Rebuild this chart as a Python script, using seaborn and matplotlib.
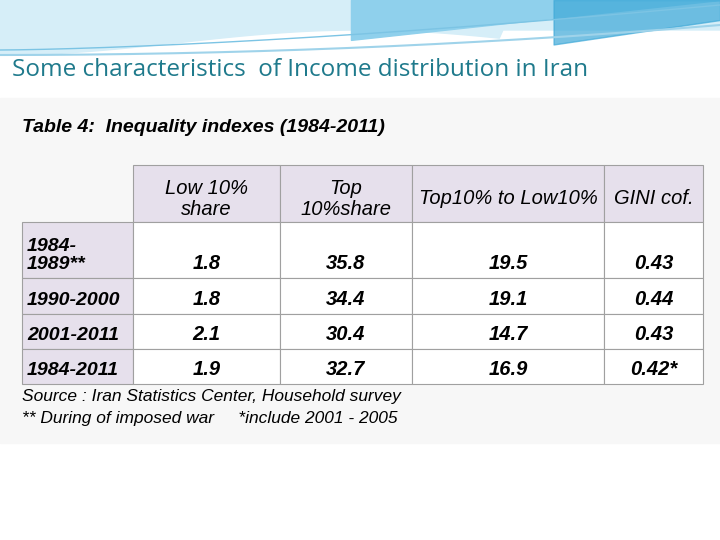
import matplotlib
matplotlib.use("Agg")
import matplotlib.pyplot as plt
import seaborn as sns
import numpy as np
from matplotlib.patches import Rectangle

sns.set_theme(style="white")
plt.rcParams['font.family'] = ['Liberation Sans Narrow', 'Liberation Sans', 'DejaVu Sans']
plt.rcParams['text.color'] = 'black'

title = "Some characteristics  of Income distribution in Iran"
table_title = "Table 4:  Inequality indexes (1984-2011)"
headers = ["", "Low 10%\nshare", "Top\n10%share", "Top10% to Low10%", "GINI cof."]
periods = ["1984-\n1989**", "1990-2000", "2001-2011", "1984-2011"]
low10 = ["1.8", "1.8", "2.1", "1.9"]
top10 = ["35.8", "34.4", "30.4", "32.7"]
ratio = ["19.5", "19.1", "14.7", "16.9"]
gini = ["0.43", "0.44", "0.43", "0.42*"]
source = "Source : Iran Statistics Center, Household survey"
note = "** During of imposed war     *include 2001 - 2005"

col_edges = [22, 133, 280, 412, 604, 703]
row_edges = [165, 222, 278, 314, 349, 384]

fig = plt.figure(figsize=(7.2, 5.4), dpi=100)
ax = fig.add_axes([0, 0, 1, 1])
ax.set_xlim(0, 720); ax.set_ylim(540, 0); ax.axis("off")

# top decoration
xs = np.linspace(0, 720, 200)
ax.fill_between(xs, 0, 30 + 25 * np.cos(xs / 720 * np.pi) ** 2 * (xs < 500), color="#d6eef8", zorder=0)
ax.plot(xs, 55 - 30 * (xs / 720) ** 2, color="#9fd3ea", lw=1.5)
ax.plot(xs, 50 - 45 * (xs / 720) ** 1.5, color="#7cc4e4", lw=1)
ax.fill_between(xs[xs > 350], 0, 40 - 40 * ((xs[xs > 350] - 350) / 370), color="#8fd0ec", zorder=0)
ax.fill_between(xs[xs > 550], 0, 45 - 25 * ((xs[xs > 550] - 550) / 170), color="#3fa9d8", alpha=0.7, zorder=0)

ax.text(12, 70, title, fontsize=17.5, color="#1f7a8c", va="center", ha="left", family=['Open Sans', 'DejaVu Sans'])
ax.add_patch(Rectangle((0, 98), 720, 345, color="#f7f7f7", zorder=0))
ax.text(22, 128, table_title, fontsize=14, fontweight="bold", style="italic", va="center")

lav = "#e6e0ec"
rows = [headers] + [[p, a, b, c, d] for p, a, b, c, d in zip(periods, low10, top10, ratio, gini)]
for r, row in enumerate(rows):
    for c, txt in enumerate(row):
        x0, x1 = col_edges[c], col_edges[c + 1]
        y0, y1 = row_edges[r], row_edges[r + 1]
        if r == 0 and c == 0:
            continue
        fc = lav if (r == 0 or c == 0) else "white"
        ax.add_patch(Rectangle((x0, y0), x1 - x0, y1 - y0, facecolor=fc, edgecolor="#a0a0a0", lw=0.8))
        if c == 0 and r > 0:
            ax.text(x0 + 5, y1 - 5, txt, fontsize=14, fontweight="bold", style="italic", ha="left", va="bottom", linespacing=1.1)
        else:
            ax.text((x0 + x1) / 2, y1 - 5 if r > 0 else y1 - 14 if "\n" not in txt else y1 - 3, txt,
                    fontsize=14.5, fontweight="bold" if r > 0 else "normal", style="italic",
                    ha="center", va="bottom", linespacing=1.1)

ax.text(22, 396, source, fontsize=12.5, style="italic", va="center")
ax.text(22, 419, note, fontsize=12.5, style="italic", va="center")

fig.savefig("out.png", dpi=100)
